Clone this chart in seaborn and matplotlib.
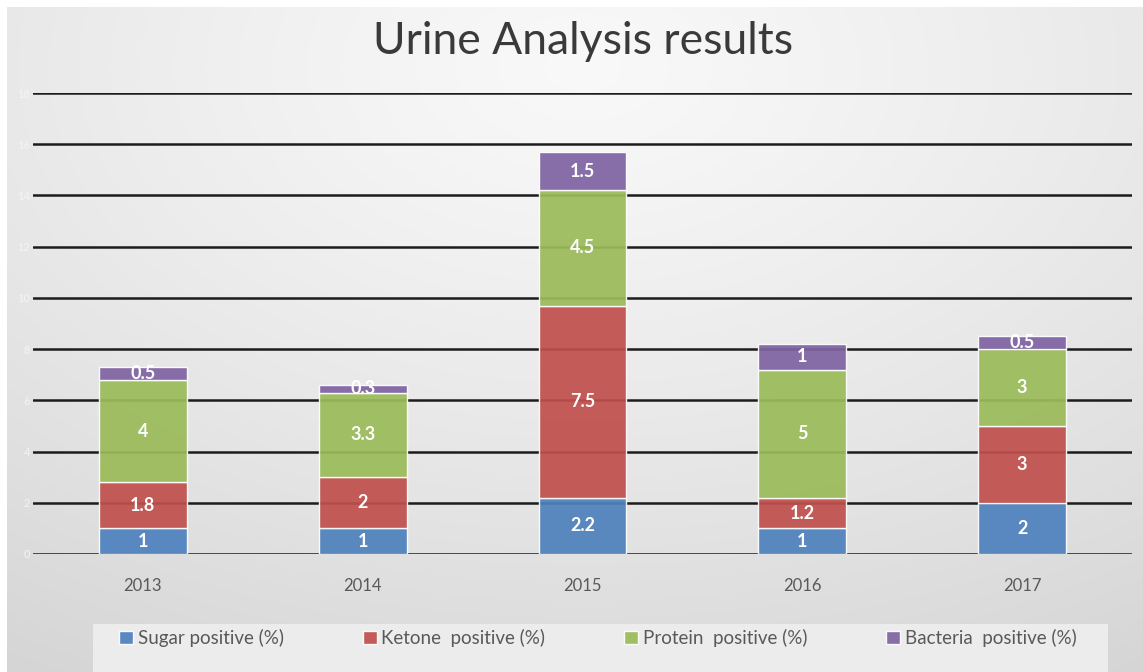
import numpy as np
import pandas as pd
import matplotlib
matplotlib.use("Agg")
import matplotlib.pyplot as plt
from matplotlib.patches import Rectangle
import seaborn as sns

years = ["2013", "2014", "2015", "2016", "2017"]
series_names = ["Sugar positive (%)", "Ketone  positive (%)",
                "Protein  positive (%)", "Bacteria  positive (%)"]
sugar = [1, 1, 2.2, 1, 2]
ketone = [1.8, 2, 7.5, 1.2, 3]
protein = [4, 3.3, 4.5, 5, 3]
bacteria = [0.5, 0.3, 1.5, 1, 0.5]
colors = ["#4F81BD", "#C0504D", "#9BBB59", "#8064A2"]
y_ticks = [0, 2, 4, 6, 8, 10, 12, 14, 16, 18]

sns.set_theme(style="white")
plt.rcParams["font.family"] = ["Lato", "DejaVu Sans"]

W, H = 1143, 672
fig = plt.figure(figsize=(W / 100, H / 100), dpi=100)
fig.patch.set_facecolor("white")

# soft grey radial background panel
bg = fig.add_axes([7 / W, 0, 1 - 7 / W, 1 - 7 / H], zorder=-10)
yy, xx = np.mgrid[0:665, 0:1136]
cx, cy = 576, 60
d = np.sqrt(((xx - cx) / 1.0) ** 2 + ((yy - cy) * 1.6) ** 2)
d = d / d.max()
shade = 0.975 - 0.14 * d ** 1.2
bg.imshow(np.dstack([shade, shade, shade]), aspect="auto",
          extent=[0, 1, 0, 1], origin="upper")
bg.set_axis_off()

ax = fig.add_axes([33 / W, 1 - 554 / H, (1132 - 33) / W, (554 - 93) / H])
ax.set_facecolor("none")

df = pd.DataFrame({"year": years, "sugar": sugar, "ketone": ketone,
                   "protein": protein, "bacteria": bacteria})
cols = ["sugar", "ketone", "protein", "bacteria"]
bottom = np.zeros(len(years))
for col, name, c in zip(cols, series_names, colors):
    sns.barplot(data=df, x="year", y=col, bottom=bottom, color=c,
                width=0.4, saturation=1, alpha=0.93, label=name, ax=ax,
                edgecolor=(1, 1, 1, 0.35), linewidth=1.0, zorder=3)
    vals = df[col].to_numpy(dtype=float)
    for i, v in enumerate(vals):
        ax.text(i, bottom[i] + v / 2, f"{v:g}", ha="center", va="center",
                color="white", fontsize=13, fontweight="bold", zorder=5)
    bottom = bottom + vals

ax.set_xlim(-0.5, 4.5)
ax.set_ylim(0, 18)
ax.set_yticks(y_ticks)
for t in y_ticks:
    ax.axhline(t, color="#1c1c1c", lw=1.8, zorder=1)
ax.tick_params(axis="y", length=0, labelsize=8, labelcolor="#f4f4f4", pad=2)
ax.tick_params(axis="x", length=0, labelsize=12, labelcolor="#595959", pad=17)
ax.set_xlabel("")
ax.set_ylabel("")
for s in ax.spines.values():
    s.set_visible(False)

fig.text(583 / W, 1 - 42 / H, "Urine Analysis results", ha="center",
         va="center", fontsize=32, color="#3a3a3a")

# legend panel
fig.patches.append(Rectangle((93 / W, 0), (1108 - 93) / W, (672 - 624) / H,
                             transform=fig.transFigure, facecolor="#ececec",
                             edgecolor="none", zorder=-5))
handles, labels = ax.get_legend_handles_labels()
if ax.legend_:
    ax.legend_.remove()
fig.legend(handles, labels, loc="center", bbox_to_anchor=(598 / W, 1 - 638 / H),
           ncol=4, frameon=False, fontsize=13.5, labelcolor="#595959",
           handlelength=0.75, handleheight=0.75, handletextpad=0.25,
           columnspacing=4.2)

fig.savefig("out.png", dpi=100)
